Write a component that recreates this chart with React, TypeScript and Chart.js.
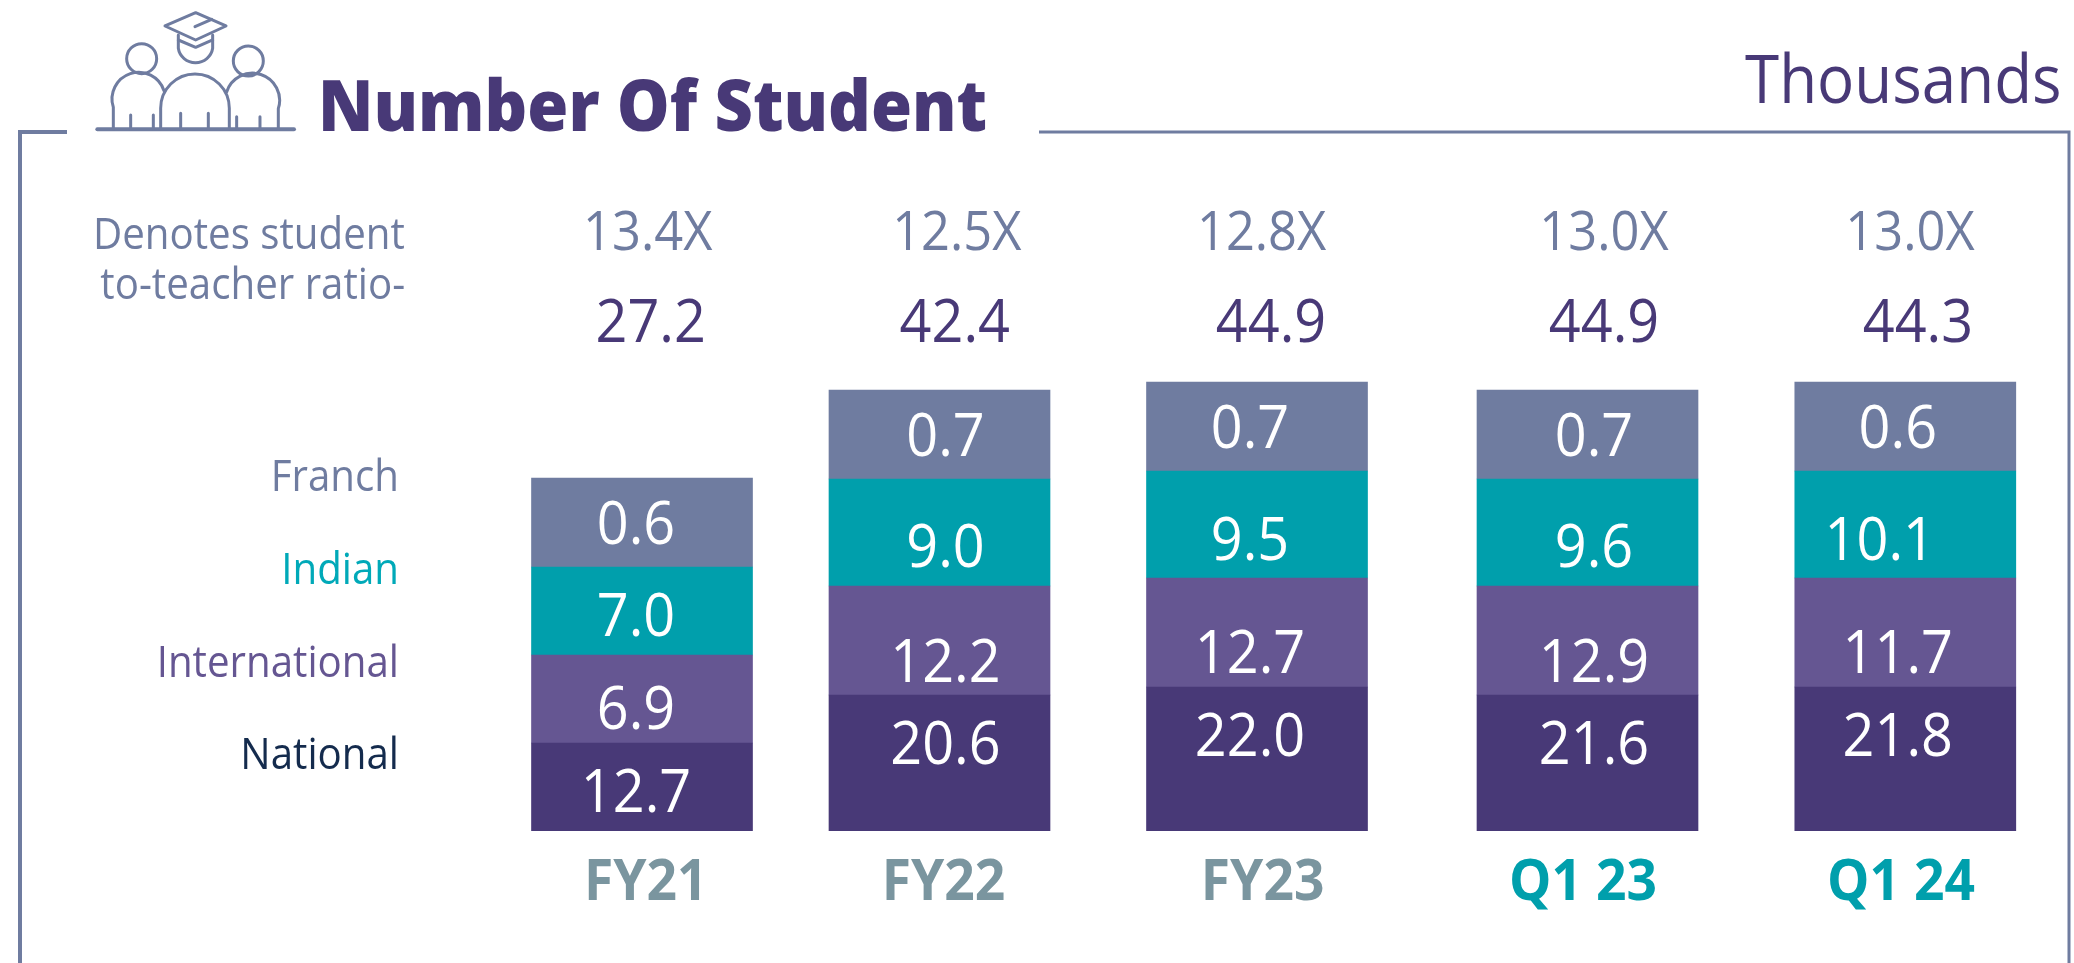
import React, { useEffect, useRef } from "react";
import { Chart, registerables, CategoryScale } from "chart.js";

// ---- Data ----
const categories = ["FY21", "FY22", "FY23", "Q1 23", "Q1 24"];
const seriesNames = ["National", "International", "Indian", "Franch"];

// Printed values (thousands)
const nationalValues = ["12.7", "20.6", "22.0", "21.6", "21.8"];
const internationalValues = ["6.9", "12.2", "12.7", "12.9", "11.7"];
const indianValues = ["7.0", "9.0", "9.5", "9.6", "10.1"];
const franchValues = ["0.6", "0.7", "0.7", "0.7", "0.6"];
const totals = ["27.2", "42.4", "44.9", "44.9", "44.3"];
const ratios = ["13.4X", "12.5X", "12.8X", "13.0X", "13.0X"];

// Segment heights as drawn in the picture (the artwork is not to scale with its printed numbers)
const nationalHeights = [8.8, 13.6, 14.4, 13.6, 14.4];
const internationalHeights = [8.8, 10.9, 10.9, 10.9, 10.9];
const indianHeights = [8.8, 10.7, 10.7, 10.7, 10.7];
const franchHeights = [8.9, 8.9, 8.9, 8.9, 8.9];

// ---- Layout and style ----
const SLOT_FRACTIONS = [0.30955, 0.45299, 0.60608, 0.76543, 0.91866];
const PURPLE_DARK = "#483977";
const PURPLE = "#655692";
const TEAL = "#009FAC";
const SLATE = "#6F7CA0";
const GREY_TEAL = "#7A959F";
const SANS = '"Open Sans", sans-serif';
const TEXT_SQUEEZE = 0.93;

const LABEL_DX = [-6, 6, -7, 6.5, -7.5];
const LABEL_DY = [
  [4, -20, -24, -20, -24],
  [9, 20, 19, 20, 19],
  [4, 13, 14, 13, 14],
  [0, 0, 0, 0, 0],
];
const EXTRA_DX: Record<string, number> = { "2:4": -18 };
const TOTAL_X_SHIFT = [8.7, 15.3, 14, 16.5, 12.7];
const RATIO_X_SHIFT = [5.7, 17.3, 4.6, 16.5, 4.7];
const TICK_X_SHIFT = [3.7, 4, 5.6, -4.5, -4.3];
const TICK_BASELINE = 900;
const TOTAL_Y = 321;
const RATIO_Y = 230;
const LEGEND_RIGHT = 399;
const LEGEND_Y = [753, 661, 568, 475];
const LEGEND_COLOURS = ["#142B4D", PURPLE, "#00A9B8", SLATE];

class SpacedCategoryScale extends CategoryScale {
  static id = "spacedCategory";
  static defaults = CategoryScale.defaults;
  getPixelForValue(value: any) {
    const i = typeof value === "number" ? value : (this as any).parse(value);
    return (this as any).left + SLOT_FRACTIONS[Math.round(i)] * (this as any).width;
  }
}

Chart.register(...registerables, SpacedCategoryScale as any);

function squeezedText(
  ctx: CanvasRenderingContext2D,
  text: string,
  x: number,
  baseline: number,
  font: string,
  colour: string,
  align: CanvasTextAlign,
  squeeze = TEXT_SQUEEZE
) {
  ctx.save();
  ctx.translate(x, baseline);
  ctx.scale(squeeze, 1);
  ctx.font = font;
  ctx.fillStyle = colour;
  ctx.textAlign = align;
  ctx.textBaseline = "alphabetic";
  ctx.fillText(text, 0, 0);
  ctx.restore();
}

const textPlugin = {
  id: "printedText",
  afterDatasetsDraw(chart: any) {
    const ctx = chart.ctx as CanvasRenderingContext2D;
    const xScale = chart.scales.x;
    const valueFont = `400 60px ${SANS}`;
    chart.data.datasets.forEach((ds: any, s: number) => {
      chart.getDatasetMeta(s).data.forEach((bar: any, i: number) => {
        const cy = (bar.y + bar.base) / 2 + LABEL_DY[s][i];
        const x = bar.x + LABEL_DX[i] + (EXTRA_DX[`${s}:${i}`] ?? 0);
        squeezedText(ctx, ds.printed[i], x, cy + 21, valueFont, "#FFFFFF", "center");
      });
      squeezedText(ctx, ds.label, LEGEND_RIGHT, LEGEND_Y[s] + 16, `400 44px ${SANS}`, LEGEND_COLOURS[s], "right", 0.915);
    });
    categories.forEach((name, i) => {
      const x = xScale.getPixelForTick(i);
      squeezedText(ctx, totals[i], x + TOTAL_X_SHIFT[i], TOTAL_Y + 21, valueFont, PURPLE_DARK, "center");
      squeezedText(ctx, ratios[i], x + RATIO_X_SHIFT[i], RATIO_Y + 20, `400 55px ${SANS}`, SLATE, "center", 0.92);
      squeezedText(ctx, name, x + TICK_X_SHIFT[i], TICK_BASELINE, `700 58px ${SANS}`, i >= 3 ? TEAL : GREY_TEAL, "center", 0.92);
    });
  },
};

const abs = (o: React.CSSProperties): React.CSSProperties => ({
  position: "absolute",
  whiteSpace: "nowrap",
  margin: 0,
  fontFamily: SANS,
  ...o,
});

export default function App() {
  const ref = useRef<HTMLCanvasElement>(null);
  useEffect(() => {
    document.body.style.margin = "0";
    document.body.style.overflow = "hidden";
    const mk = (label: string, data: number[], printed: string[], color: string) => ({
      label,
      data,
      printed,
      backgroundColor: color,
      borderWidth: 0,
      barThickness: 221,
    });
    const chart = new Chart(ref.current!, {
      type: "bar",
      data: {
        labels: categories,
        datasets: [
          mk(seriesNames[0], nationalHeights, nationalValues, PURPLE_DARK),
          mk(seriesNames[1], internationalHeights, internationalValues, PURPLE),
          mk(seriesNames[2], indianHeights, indianValues, TEAL),
          mk(seriesNames[3], franchHeights, franchValues, SLATE),
        ] as any,
      },
      options: {
        animation: false,
        responsive: false,
        layout: { padding: { top: 381, left: 0, right: 0, bottom: 0 } },
        plugins: { legend: { display: false }, title: { display: false }, tooltip: { enabled: false } },
        scales: {
          x: {
            type: "spacedCategory" as any,
            stacked: true,
            grid: { display: false },
            border: { display: false },
            ticks: { display: false, autoSkip: false, maxRotation: 0 },
            afterFit: (s: any) => {
              s.height = 132;
            },
          },
          y: { display: false, stacked: true, min: 0, max: 45 },
        },
      },
      plugins: [textPlugin],
    });
    return () => chart.destroy();
  }, []);

  return (
    <div style={{ position: "absolute", left: 0, top: 0, width: 2074, height: 963, background: "#fff", overflow: "hidden" }}>
      <canvas ref={ref} width={2074} height={963} style={{ position: "absolute", left: 0, top: 0 }} />
      <svg width={2074} height={963} style={{ position: "absolute", left: 0, top: 0 }} fill="none">
        <path d="M67 132 H20 V963" stroke={SLATE} strokeWidth={4} />
        <path d="M1039 132 H2069 V963" stroke={SLATE} strokeWidth={3} />
        <g transform="translate(90 0) scale(0.3333)" stroke={SLATE} strokeWidth={9} strokeLinecap="round" strokeLinejoin="round">
          <path d="M22 388 H612" strokeWidth={12} />
          <path d="M317 38 L408 78 L317 120 L225 78 Z" />
          <path d="M315 80 L365 58" />
          <path d="M265 105 L265 145 A52 50 0 0 0 368 145 L368 105" />
          <path d="M265 120 L317 142 L368 120" />
          <circle cx={155} cy={176} r={45} />
          <circle cx={475} cy={183} r={45} />
          <path d="M212 388 V325 A103 103 0 0 1 418 325 V388" />
          <path d="M70 388 V322 A76 76 0 0 1 222 272" />
          <path d="M565 388 V326 A78 78 0 0 0 410 276" />
          <path d="M122 388 V345 M190 388 V345 M272 388 V340 M355 388 V340 M440 388 V350 M510 388 V350" />
        </g>
      </svg>
      <div style={abs({ left: 318, top: 132 - 76, fontSize: 70, lineHeight: "96px", fontWeight: 800, color: PURPLE_DARK, transform: "scaleX(0.95)", transformOrigin: "left center" })}>
        Number Of Student
      </div>
      <div style={abs({ right: 12, top: 104 - 72, fontSize: 67, lineHeight: "91px", fontWeight: 400, color: PURPLE_DARK, transform: "scaleX(0.924)", transformOrigin: "right center" })}>
        Thousands
      </div>
      <div style={abs({ right: 2074 - 405, top: 248 - 46, fontSize: 44, lineHeight: "60px", fontWeight: 400, color: SLATE, transform: "scaleX(0.915)", transformOrigin: "right center" })}>
        Denotes student
      </div>
      <div style={abs({ right: 2074 - 405, top: 301 - 49, fontSize: 44, lineHeight: "60px", fontWeight: 400, color: SLATE, transform: "scaleX(0.915)", transformOrigin: "right center" })}>
        to-teacher ratio-
      </div>
    </div>
  );
}
